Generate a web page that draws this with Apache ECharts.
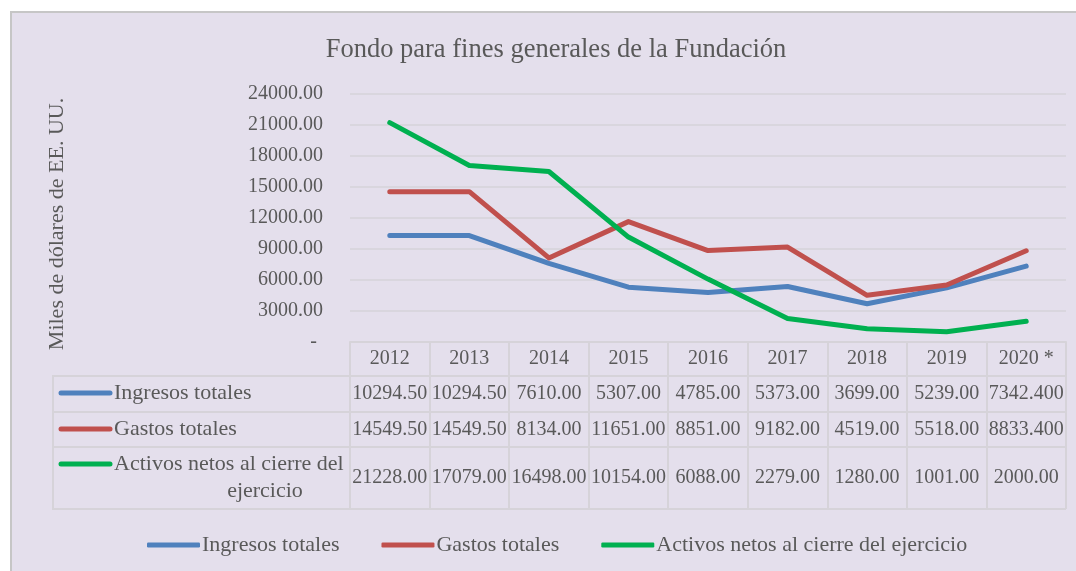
<!DOCTYPE html>
<html>
<head>
<meta charset="utf-8">
<script src="https://cdn.jsdelivr.net/npm/echarts@6/dist/echarts.min.js"></script>
<style>
html,body{margin:0;padding:0;background:#fff;overflow:hidden;width:1076px;height:571px;}
#panel{position:absolute;left:10px;top:11px;width:1064px;height:560px;background:#E4DFEC;border-left:2px solid #C6C6C6;border-top:2px solid #C6C6C6;}
#c{position:absolute;left:0;top:0;width:1076px;height:571px;}
</style>
</head>
<body>
<div id="panel"></div>
<div id="c"></div>
<script>
const titleText = 'Fondo para fines generales de la Fundación';
const yAxisName = 'Miles de dólares de EE. UU.';
const years = ['2012', '2013', '2014', '2015', '2016', '2017', '2018', '2019', '2020 *'];
const seriesNames = ['Ingresos totales', 'Gastos totales', 'Activos netos al cierre del ejercicio'];
const ingresos = [10294.5, 10294.5, 7610, 5307, 4785, 5373, 3699, 5239, 7342.4];
const gastos = [14549.5, 14549.5, 8134, 11651, 8851, 9182, 4519, 5518, 8833.4];
const activos = [21228, 17079, 16498, 10154, 6088, 2279, 1280, 1001, 2000];
const lastColDecimals = [3, 3, 2];
const colors = ['#4F81BD', '#C0504D', '#00B050'];

const FONT = '"Liberation Serif", "Times New Roman", serif';
const TXT = '#595959';
const GRID_LINE = '#D9D6DE';
const TABLE_LINE = '#D6D3D9';

// layout
const L = 350, R = 1066, TOP = 94, ZERO = 342;
const rowLines = [376, 412, 447, 509];
const rowCenters = [394, 429.5, 478];

const allSeries = [ingresos, gastos, activos];
function fmt(arr, si) {
  return arr.map((v, i) => v.toFixed(i === arr.length - 1 ? lastColDecimals[si] : 2));
}

const chart = echarts.init(document.getElementById('c'), null, {renderer: 'canvas'});

const xAxes = [{
  type: 'category',
  data: years,
  boundaryGap: true,
  position: 'bottom',
  axisLine: {show: true, lineStyle: {color: TABLE_LINE, width: 2}},
  axisTick: {show: true, inside: false, length: rowLines[3] - ZERO, lineStyle: {color: TABLE_LINE, width: 2}},
  axisLabel: {show: true, interval: 0, margin: 17, verticalAlign: 'middle', fontFamily: FONT, fontSize: 20, color: TXT},
  splitLine: {show: false}
}];
allSeries.forEach((arr, si) => {
  xAxes.push({
    type: 'category',
    data: fmt(arr, si),
    boundaryGap: true,
    position: 'bottom',
    offset: 0,
    axisLine: {show: false},
    axisTick: {show: false},
    axisLabel: {show: true, interval: 0, hideOverlap: false, margin: rowCenters[si] - ZERO, verticalAlign: 'middle', fontFamily: FONT, fontSize: 20, color: TXT},
    splitLine: {show: false}
  });
});

const graphics = [];
rowLines.forEach(y => {
  graphics.push({type: 'line', shape: {x1: 52, y1: y, x2: R, y2: y}, style: {stroke: TABLE_LINE, lineWidth: 2}, silent: true});
});
graphics.push({type: 'line', shape: {x1: 53, y1: rowLines[0], x2: 53, y2: rowLines[3]}, style: {stroke: TABLE_LINE, lineWidth: 2}, silent: true});
const iconY = [393, 429, 464];
seriesNames.forEach((name, si) => {
  graphics.push({type: 'line', shape: {x1: 61, y1: iconY[si], x2: 110, y2: iconY[si]}, style: {stroke: colors[si], lineWidth: 5, lineCap: 'round'}, silent: true});
});
const words = seriesNames[2].split(' ');
const rowLabelTexts = [seriesNames[0], seriesNames[1], words.slice(0, -1).join(' ')];
rowLabelTexts.forEach((t, si) => {
  graphics.push({type: 'text', x: 114, y: iconY[si], style: {text: t, font: '22px ' + FONT, fill: TXT, textAlign: 'left', textVerticalAlign: 'middle'}, silent: true});
});
graphics.push({type: 'text', x: 265, y: 491, style: {text: words[words.length - 1], font: '22px ' + FONT, fill: TXT, textAlign: 'center', textVerticalAlign: 'middle'}, silent: true});

chart.setOption({
  animation: false,
  backgroundColor: 'transparent',
  title: {
    text: titleText,
    left: 551,
    top: 32,
    textAlign: 'center',
    textStyle: {fontFamily: FONT, fontSize: 26.5, fontWeight: 'normal', color: TXT}
  },
  grid: {left: L, right: 1076 - R, top: TOP, bottom: 571 - ZERO, containLabel: false},
  xAxis: xAxes,
  yAxis: {
    type: 'value',
    min: 0, max: 24000, interval: 3000,
    name: yAxisName,
    nameLocation: 'middle',
    nameRotate: 90,
    nameGap: 282,
    nameTextStyle: {fontFamily: FONT, fontSize: 22, color: TXT, padding: [0, 12, 0, 0]},
    axisLine: {show: false},
    axisTick: {show: false},
    axisLabel: {
      margin: 27, fontFamily: FONT, fontSize: 20, color: TXT,
      formatter: v => v === 0 ? '{d|-}' : v.toFixed(2),
      rich: {d: {fontFamily: FONT, fontSize: 20, color: TXT, padding: [0, 6, 0, 0]}}
    },
    splitLine: {show: true, lineStyle: {color: GRID_LINE, width: 2}}
  },
  legend: {
    data: seriesNames,
    left: 142,
    top: 529,
    icon: 'roundRect',
    itemWidth: 53,
    itemHeight: 5,
    itemGap: 42,
    textStyle: {fontFamily: FONT, fontSize: 22, color: TXT, padding: [0, 0, 0, -3]}
  },
  graphic: graphics,
  series: allSeries.map((arr, si) => ({
    name: seriesNames[si],
    type: 'line',
    xAxisIndex: 0,
    data: arr,
    showSymbol: false,
    symbol: 'none',
    lineStyle: {color: colors[si], width: 5, cap: 'round', join: 'round'},
    itemStyle: {color: colors[si]},
    z: 3 + si
  }))
});
</script>
</body>
</html>
